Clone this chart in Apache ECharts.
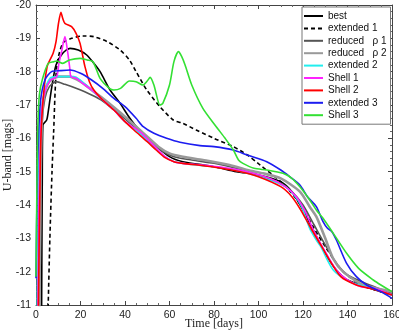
<!DOCTYPE html>
<html>
<head>
<meta charset="utf-8">
<script src="https://cdn.jsdelivr.net/npm/echarts@6/dist/echarts.min.js"></script>
<style>
  html, body { margin: 0; padding: 0; background: #fff; }
  #chart { width: 399px; height: 335px; }
</style>
</head>
<body>
<div id="chart"></div>
<script>
// light curves: [day, U-band magnitude]
const best = [[2.5,-10.5],[2.8,-14.5],[3.1,-16.4],[4.8,-16.55],[5.5,-16.8],[7,-17.5],[9,-18.2],[12,-18.55],[15.3,-18.7],[19,-18.65],[22.8,-18.5],[26,-18.25],[28.8,-18.0],[33.3,-17.45],[37.8,-17.05],[42.2,-16.6],[47,-16.2],[52.7,-15.85],[60,-15.45],[66,-15.3],[80,-15.15],[90,-15.0],[100,-14.9],[110,-14.7],[115,-14.4],[120,-13.85],[125,-13.2],[130,-12.55],[135,-12.05],[140,-11.75],[150,-11.5],[160,-11.3]];
const extended1 = [[5.3,-10.5],[6.3,-13.15],[7.2,-15.0],[7.9,-16.15],[9.3,-18.15],[12,-18.85],[16,-19.0],[21,-19.07],[26,-19.05],[32,-18.9],[37.8,-18.65],[42,-18.35],[45,-18.0],[49.8,-17.45],[55.7,-16.95],[61.7,-16.55],[66,-16.45],[72,-16.25],[80,-16.0],[88.7,-15.75],[95,-15.5],[100.7,-15.2],[110,-14.7],[115,-14.35],[120,-13.9],[125,-13.3],[130,-12.75],[135,-12.25],[138,-12.0],[145,-11.65],[150,-11.5],[160,-11.3]];
const reducedRho1 = [[1.5,-10.5],[2,-14.0],[2.8,-16.5],[4,-17.2],[6,-17.55],[9,-17.7],[13,-17.62],[18,-17.5],[25,-17.3],[30,-17.12],[40,-16.58],[50,-16.0],[56,-15.65],[62,-15.45],[70,-15.35],[80,-15.25],[90,-15.1],[100,-14.9],[110,-14.65],[115,-14.4],[120,-14.0],[125,-13.4],[130,-12.8],[135,-12.25],[140,-11.9],[150,-11.6],[160,-11.35]];
const reducedRho2 = [[1.5,-10.5],[2,-14.5],[2.8,-16.8],[4,-17.4],[6,-17.7],[10,-17.85],[15,-17.85],[20,-17.7],[25,-17.45],[30,-17.2],[40,-16.65],[50,-16.05],[55,-15.75],[60,-15.55],[66,-15.45],[75,-15.35],[87,-15.2],[95,-15.05],[102,-14.95],[110,-14.8],[118.6,-14.4],[123,-13.95],[126,-13.65],[130,-13.0],[133.5,-12.4],[138,-12.0],[145.6,-11.65],[150,-11.55],[160,-11.4]];
const extended2 = [[0.5,-10.5],[1,-14.0],[2,-16.5],[3.5,-17.3],[6.3,-17.8],[10,-17.85],[13.8,-17.85],[17,-17.85],[19.8,-17.75],[25,-17.45],[30,-17.15],[35,-16.85],[40,-16.5],[46.7,-16.15],[52,-15.8],[58,-15.45],[62,-15.3],[66,-15.25],[75,-15.18],[85,-15.1],[95,-14.95],[105,-14.75],[112,-14.55],[116,-14.3],[119.4,-13.95],[123,-13.3],[126,-12.95],[128,-12.75],[133.6,-12.05],[141,-11.7],[148.6,-11.55],[160,-11.3]];
const shell1 = [[0.8,-10.5],[1.3,-14.0],[2.5,-16.8],[4,-17.4],[6.5,-17.75],[9.3,-17.85],[10.3,-18.25],[11.5,-18.6],[13,-19.05],[14.2,-18.6],[15.2,-18.1],[15.7,-17.85],[18,-17.8],[20,-17.7],[25,-17.45],[30,-17.15],[35,-16.85],[40,-16.5],[46.7,-16.2],[52,-15.85],[58,-15.45],[62,-15.3],[66,-15.25],[75,-15.2],[85,-15.12],[95,-15.0],[105,-14.8],[112,-14.55],[117,-14.25],[121,-13.8],[125,-13.2],[130,-12.6],[135,-12.05],[140,-11.75],[146,-11.55],[152,-11.5],[160,-11.3]];
const shell2 = [[1,-10.5],[2,-15.5],[3,-17.0],[5,-18.15],[7.7,-18.55],[9,-18.9],[10,-19.4],[11.2,-19.78],[12,-19.6],[13,-19.45],[16,-19.35],[18,-19.15],[19.8,-18.85],[22,-18.15],[24,-17.7],[26,-17.45],[30,-17.15],[35,-16.85],[40,-16.5],[44,-16.25],[50,-15.9],[54,-15.65],[58,-15.42],[62,-15.3],[66,-15.25],[75,-15.18],[82,-15.12],[92,-15.0],[100,-14.85],[110,-14.55],[115,-14.25],[119,-13.85],[124,-13.25],[128,-12.8],[131,-12.45],[137,-11.85],[144,-11.6],[150,-11.5],[160,-11.3]];
const extended3 = [[0,-11.8],[0.5,-14.5],[1,-15.8],[2,-17.1],[4,-17.75],[7,-18.0],[11,-18.03],[15.3,-18.05],[20,-17.95],[25,-17.75],[30,-17.5],[35,-17.2],[40,-16.95],[45,-16.6],[48.2,-16.35],[53,-16.15],[58.7,-16.0],[64.7,-15.88],[73.7,-15.78],[80,-15.75],[88.7,-15.65],[95,-15.5],[103.7,-15.3],[110,-15.05],[114,-14.85],[118.6,-14.6],[122,-14.25],[126,-13.95],[129,-13.5],[131,-13.3],[133,-13.2],[135,-12.95],[139.6,-12.25],[144,-11.85],[148.6,-11.6],[155,-11.4],[160,-11.2]];
const shell3 = [[0,-11.85],[0.4,-14.5],[0.8,-16.3],[1.5,-17.3],[3,-17.8],[5.5,-18.25],[8,-18.3],[9.3,-18.32],[12,-18.25],[15,-18.35],[19.8,-18.4],[23,-18.35],[25.6,-18.3],[28.8,-17.8],[33,-17.5],[35,-17.45],[38,-17.5],[42,-17.72],[45,-17.7],[48,-17.6],[50,-17.72],[51.3,-17.83],[53,-17.6],[55.7,-17.0],[57,-17.05],[60,-17.6],[62,-18.3],[64,-18.6],[65.5,-18.45],[67,-18.2],[70,-17.6],[75,-16.9],[81,-16.35],[85,-16.0],[88.7,-15.65],[91,-15.35],[93,-15.25],[98,-15.1],[103.7,-15.05],[111,-14.95],[115,-14.8],[118.6,-14.55],[122,-14.25],[126,-13.85],[129,-13.6],[133.6,-13.15],[139.6,-12.55],[145,-12.1],[151.6,-11.75],[155,-11.6],[160,-11.4]];

const names = ['best', 'extended 1', 'reduced   ρ 1', 'reduced   ρ 2', 'extended 2', 'Shell 1', 'Shell 2', 'extended 3', 'Shell 3'];
const curves = [best, extended1, reducedRho1, reducedRho2, extended2, shell1, shell2, extended3, shell3];
const colors = ['#000000', '#000000', '#555555', '#999999', '#22eeee', '#ff22ff', '#ff0000', '#1c1cf0', '#33e033'];
const widths = [1.6, 1.6, 1.6, 2.6, 1.6, 1.6, 1.6, 1.6, 1.6];

const chart = echarts.init(document.getElementById('chart'));

const tickFont = { color: '#222', fontSize: 10.5, fontFamily: 'Liberation Sans' };
const titleFont = { color: '#222', fontSize: 12, fontFamily: 'Liberation Serif' };

/*坐标轴: 底/左带标签, 顶/右只画刻度*/
const xBase = {
  type: 'value', min: 0, max: 160, interval: 20,
  axisLine: { show: true, onZero: false, lineStyle: { color: '#444', width: 1 } },
  axisTick: { show: true, inside: true, length: 4, lineStyle: { color: '#444' } },
  minorTick: { show: true, splitNumber: 4, length: 2, lineStyle: { color: '#666' } },
  splitLine: { show: false }
};
const yBase = {
  type: 'value', min: -20, max: -11, interval: 1, inverse: true,
  axisLine: { show: true, onZero: false, lineStyle: { color: '#444', width: 1 } },
  axisTick: { show: true, inside: true, length: 4, lineStyle: { color: '#444' } },
  minorTick: { show: true, splitNumber: 5, length: 2, lineStyle: { color: '#666' } },
  splitLine: { show: false }
};

chart.setOption({
  animation: false,
  backgroundColor: '#fff',
  grid: { left: 36, right: 7, top: 5, bottom: 30, containLabel: false, outerBoundsMode: 'none' },
  xAxis: [
    Object.assign({}, xBase, {
      position: 'bottom',
      axisLabel: Object.assign({ margin: 5 }, tickFont),
      name: 'Time [days]', nameLocation: 'middle', nameGap: 13, nameMoveOverlap: false, nameTextStyle: titleFont
    }),
    Object.assign({}, xBase, { position: 'top', axisLabel: { show: false } })
  ],
  yAxis: [
    Object.assign({}, yBase, {
      position: 'left',
      axisLabel: Object.assign({ margin: 5 }, tickFont),
      name: 'U-band [mags]', nameLocation: 'middle', nameRotate: 90, nameGap: 22, nameMoveOverlap: false, nameTextStyle: titleFont
    }),
    Object.assign({}, yBase, { position: 'right', axisLabel: { show: false } })
  ],
  legend: {
    orient: 'vertical', left: 302, top: 7,
    padding: [3, 4, 3, 1],
    itemWidth: 19, itemHeight: 12, itemGap: 0.4,
    itemStyle: { opacity: 0 },
    backgroundColor: '#fff', borderColor: '#777', borderWidth: 1,
    textStyle: { color: '#111', fontSize: 10, lineHeight: 12, fontFamily: 'Liberation Sans' },
    data: names
  },
  series: curves.map((d, i) => ({
    name: names[i],
    type: 'line',
    data: d,
    symbol: 'none',
    smooth: 0.25,
    clip: true,
    lineStyle: { color: colors[i], width: widths[i], type: i === 1 ? [4, 3] : 'solid' },
    itemStyle: { color: colors[i] },
    z: 2 + i
  }))
});
</script>
</body>
</html>
